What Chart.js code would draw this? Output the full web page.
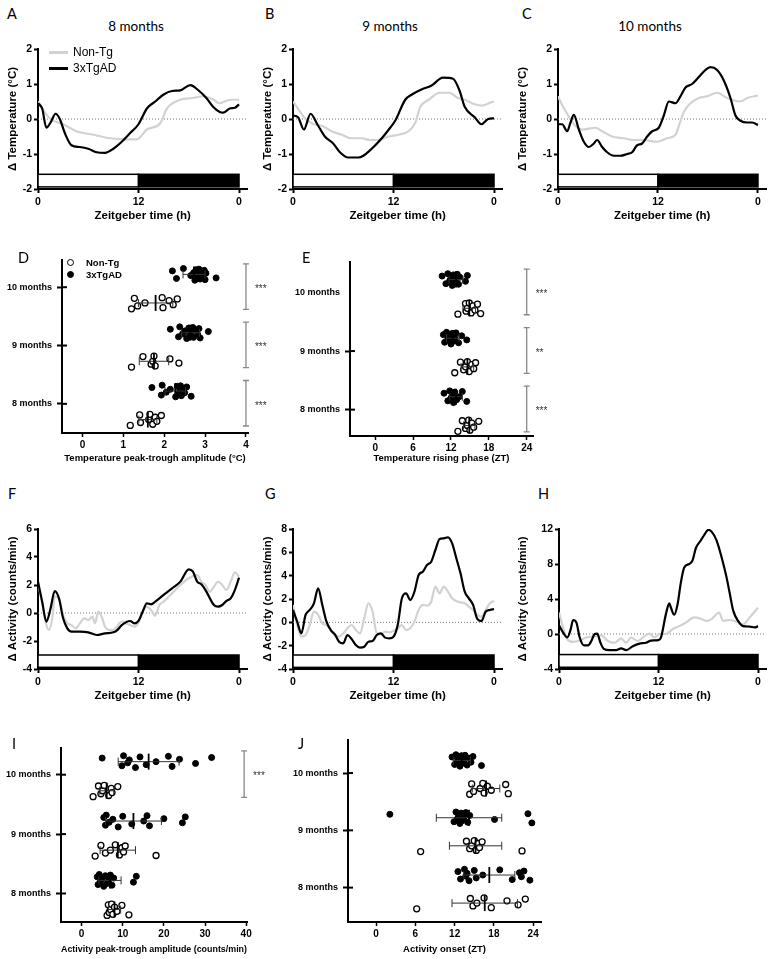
<!DOCTYPE html>
<html>
<head>
<meta charset="utf-8">
<script src="https://cdn.jsdelivr.net/npm/chart.js@4.4.1/dist/chart.umd.min.js"></script>
<style>
body { margin: 0; background: #fff; }
#fig { position: relative; width: 775px; height: 959px; overflow: hidden; font-family: 'Liberation Sans', Arial, sans-serif; }
canvas { position: absolute; }
.lt { position: absolute; font-family: Lato, 'Open Sans', sans-serif; font-size: 14.5px; line-height: 14.5px; }
.ttl { position: absolute; font-family: Lato, 'Open Sans', sans-serif; font-size: 13.5px; line-height: 13.5px; transform: translateX(-50%); white-space: nowrap; }
.lg { position: absolute; font-size: 12px; line-height: 12px; white-space: nowrap; }
.lgb { position: absolute; font-size: 9.5px; line-height: 10px; font-weight: bold; white-space: nowrap; }
.sw { position: absolute; height: 3px; width: 19px; }
.dot { position: absolute; width: 5px; height: 5px; border: 1.3px solid #000; border-radius: 50%; }
</style>
</head>
<body>
<div id="fig">
  <canvas id="cA"></canvas><canvas id="cB"></canvas><canvas id="cC"></canvas>
  <canvas id="cD"></canvas><canvas id="cE"></canvas>
  <canvas id="cF"></canvas><canvas id="cG"></canvas><canvas id="cH"></canvas>
  <canvas id="cI"></canvas><canvas id="cJ"></canvas>

  <div class="lt" style="left:7px;top:7px">A</div>
  <div class="lt" style="left:265px;top:7px">B</div>
  <div class="lt" style="left:522px;top:7px">C</div>
  <div class="lt" style="left:18px;top:251px">D</div>
  <div class="lt" style="left:302px;top:251px">E</div>
  <div class="lt" style="left:8px;top:487px">F</div>
  <div class="lt" style="left:265px;top:487px">G</div>
  <div class="lt" style="left:538px;top:487px">H</div>
  <div class="lt" style="left:12px;top:737px">I</div>
  <div class="lt" style="left:298px;top:737px">J</div>

  <div class="ttl" style="left:136px;top:20px">8 months</div>
  <div class="ttl" style="left:390px;top:20px">9 months</div>
  <div class="ttl" style="left:650px;top:20px">10 months</div>

  <div class="sw" style="left:49px;top:51px;background:#d2d2d2"></div>
  <div class="lg" style="left:73px;top:46px">Non-Tg</div>
  <div class="sw" style="left:49px;top:67px;background:#000"></div>
  <div class="lg" style="left:73px;top:62px">3xTgAD</div>

  <div class="dot" style="left:67px;top:259px;background:#fff"></div>
  <div class="lgb" style="left:86px;top:258px">Non-Tg</div>
  <div class="dot" style="left:67px;top:271px;background:#000"></div>
  <div class="lgb" style="left:86px;top:270px">3xTgAD</div>
</div>
<script>
Chart.defaults.font.family = "'Liberation Sans', Arial, sans-serif";
Chart.defaults.color = '#000';
Chart.defaults.animation = false;
Chart.defaults.plugins.legend.display = false;
Chart.defaults.plugins.tooltip.enabled = false;

// ---- 24 h profiles, [zeitgeber hour, delta] ----
const tempNonTg8 = [[0,0.5],[0.5,0.3],[1.5,0.0],[3,-0.15],[4.6,-0.35],[6.6,-0.45],[8.6,-0.55],[10.6,-0.58],[11.8,-0.58],[13,-0.3],[14.6,-0.12],[15.4,0.3],[17,0.55],[18.5,0.6],[19.7,0.65],[21,0.55],[21.6,0.45],[23,0.55],[24,0.55]];
const tempTg8 = [[0,0.45],[0.5,0.3],[1,-0.25],[1.5,-0.1],[2.1,0.15],[2.6,0.0],[3.2,-0.4],[4,-0.75],[5,-0.8],[6,-0.85],[7,-0.95],[8,-0.97],[9,-0.85],[10,-0.65],[11,-0.4],[12,-0.15],[13,0.3],[14,0.5],[15,0.7],[16,0.8],[17,0.82],[18.2,0.97],[19,0.85],[20.1,0.6],[20.9,0.35],[21.7,0.2],[22.1,0.18],[22.9,0.3],[23.5,0.32],[24,0.42]];
const tempNonTg9 = [[0,0.5],[1.5,0.0],[2.5,-0.15],[3.5,-0.2],[4.6,-0.35],[5.8,-0.45],[7,-0.55],[8.2,-0.55],[9.2,-0.6],[10.2,-0.6],[11.4,-0.5],[12.6,-0.45],[13.8,-0.35],[14.6,-0.1],[15.2,0.35],[16.2,0.55],[17.5,0.75],[18.7,0.75],[19.7,0.6],[20.5,0.55],[21.7,0.42],[22.5,0.38],[23.7,0.48],[24,0.5]];
const tempTg9 = [[0,0.1],[0.6,0.05],[1.3,-0.3],[2.1,0.15],[2.9,-0.15],[3.8,-0.5],[4.8,-0.7],[5.6,-0.95],[6.6,-1.1],[7.8,-1.1],[8.4,-1.05],[9.4,-0.85],[10.6,-0.55],[11.6,-0.25],[12.2,-0.05],[13.4,0.55],[14.2,0.7],[15.4,0.85],[16.5,0.95],[17.9,1.18],[19.1,1.15],[19.9,0.8],[20.5,0.35],[21.7,0.05],[22.5,-0.15],[23.3,0.0],[24,0.02]];
const tempNonTg10 = [[0,0.65],[0.5,0.4],[1.1,0.15],[1.9,-0.15],[2.9,-0.3],[4.5,-0.25],[5.3,-0.35],[6.5,-0.5],[7.9,-0.55],[9.1,-0.6],[10.3,-0.6],[11.9,-0.65],[13.1,-0.55],[14.1,-0.45],[14.5,-0.2],[15.1,0.2],[15.9,0.45],[16.9,0.6],[17.9,0.65],[19.1,0.75],[20.3,0.6],[21.9,0.5],[22.7,0.6],[24,0.67]];
const tempTg10 = [[0,-0.15],[0.5,-0.15],[1.1,-0.35],[1.5,-0.1],[1.9,0.12],[2.5,-0.3],[3.1,-0.65],[3.7,-0.8],[4.3,-0.7],[4.7,-0.6],[5.3,-0.8],[5.9,-0.95],[6.7,-1.05],[7.5,-1.05],[8.3,-1.0],[8.9,-0.95],[9.5,-0.75],[10.1,-0.7],[10.7,-0.5],[11.3,-0.35],[12.1,-0.25],[12.7,0.1],[13.3,0.5],[14.1,0.45],[14.7,0.65],[15.3,0.9],[16.1,1.0],[16.9,1.2],[17.7,1.4],[18.3,1.48],[19.1,1.4],[19.9,1.1],[20.7,0.6],[21.3,0.1],[21.9,-0.05],[22.7,-0.1],[23.3,-0.1],[24,-0.17]];

const actNonTg8 = [[0,2.12],[0.5,0.7],[1,-0.86],[1.3,-1.2],[1.7,-0.38],[2,1.17],[2.5,1.05],[3,-0.14],[3.5,-0.74],[4,-0.86],[4.5,-1.1],[5,-0.74],[5.5,-0.38],[6,-0.5],[6.5,-0.26],[6.8,-0.74],[7.2,0.1],[7.6,-0.26],[8,-0.98],[8.5,-1.2],[9,-1.2],[10,-0.62],[10.5,-0.74],[11,-0.86],[11.5,-0.98],[12,-0.67],[12.5,0.1],[13,0.45],[13.5,0.21],[14,-0.19],[14.5,0.57],[15,0.81],[16,1.4],[17,2.0],[18,2.48],[19,2.71],[19.5,2.24],[20,2.0],[20.5,1.52],[21,1.88],[21.5,2.24],[22,2.0],[22.5,1.64],[23,2.24],[23.5,2.9],[24,2.6]];
const actTg8 = [[0,2.24],[0.5,0.8],[1,-0.62],[1.5,0.33],[2,1.57],[2.5,1.05],[3,-0.38],[3.5,-1.1],[4,-1.33],[5,-1.33],[6,-1.38],[7,-1.57],[8,-1.45],[9,-1.38],[9.5,-1.2],[10,-0.86],[11,-0.57],[11.5,-0.74],[12,-0.57],[12.5,0.1],[13,0.69],[13.5,0.62],[14,0.81],[15,1.29],[16,1.76],[17,2.24],[18,3.12],[18.5,2.95],[19,2.24],[19.5,2.05],[20,1.64],[21,0.57],[21.5,0.45],[22,0.57],[22.5,0.86],[23,1.05],[23.5,1.64],[24,2.52]];
const actNonTg9 = [[0,1.49],[0.5,-0.23],[1,-1.23],[1.5,-1.09],[2,-0.23],[2.5,0.91],[3,0.63],[3.5,-0.09],[4,-0.23],[4.5,-0.66],[5,-1.14],[5.5,-1.23],[6,-0.94],[6.5,-0.51],[7,-0.23],[7.5,-0.66],[8,-0.94],[8.5,0.34],[9,1.63],[9.5,0.91],[10,-0.94],[10.5,-1.03],[11,-0.8],[11.5,-0.86],[12,-0.74],[12.5,-0.51],[13,-0.23],[13.5,-0.66],[14,-0.51],[14.5,0.06],[15,1.06],[15.5,1.49],[16,1.43],[16.5,1.77],[17,3.06],[17.5,2.49],[18,3.06],[18.5,2.63],[19,2.06],[19.5,1.83],[20,1.71],[20.5,1.63],[21,1.34],[21.5,1.06],[22,0.63],[22.5,0.49],[23,1.06],[23.5,1.63],[24,1.83]];
const actTg9 = [[0,1.06],[0.5,0.06],[1,-0.94],[1.5,0.63],[2,1.06],[2.5,1.63],[3,2.91],[3.5,1.49],[4,0.06],[4.5,-0.66],[5,-1.03],[5.5,-1.66],[6,-1.8],[6.5,-1.09],[7,-1.43],[7.5,-1.94],[8,-2.17],[8.5,-2.09],[9,-1.66],[9.5,-1.6],[10,-1.09],[10.5,-0.94],[11,-1.31],[11.5,-1.37],[12,-1.23],[12.5,-0.23],[13,2.06],[13.5,2.49],[14,1.91],[14.5,2.63],[15,4.06],[15.5,4.34],[16,4.91],[16.5,5.2],[17,6.2],[17.5,7.14],[18,7.2],[18.5,7.29],[19,6.77],[19.5,5.49],[20,4.2],[20.5,2.63],[21,2.06],[21.5,1.49],[22,0.29],[22.5,0.11],[23,0.91],[23.5,1.06],[24,1.14]];
const actNonTg10 = [[0,2.45],[0.5,0.7],[1,-0.6],[1.7,-0.9],[2.5,-0.75],[3.3,-0.4],[4.3,-0.25],[5.1,-0.15],[5.9,-0.8],[6.7,-1.0],[7.5,-0.5],[8.1,-1.0],[8.7,-0.4],[9.5,-0.8],[10.3,-0.25],[10.9,0.05],[11.5,-0.4],[12.1,0.0],[12.9,0.0],[13.7,0.55],[14.5,0.9],[15.3,1.3],[16.3,1.9],[17.1,1.75],[17.8,1.5],[18.4,1.7],[19.3,2.45],[19.8,1.5],[20.6,1.6],[21.4,1.4],[22.2,1.1],[23,1.9],[24,3.0]];
const actTg10 = [[0,1.0],[0.5,0.15],[1,-0.4],[1.4,0.5],[1.7,1.6],[2.1,1.3],[2.5,-0.4],[3,-1.3],[3.5,-1.3],[3.9,-0.8],[4.3,0.0],[4.6,0.05],[5,-1.0],[5.4,-1.7],[6.1,-1.85],[6.9,-1.85],[7.5,-1.65],[8.1,-1.85],[8.9,-1.4],[9.7,-1.1],[10.5,-1.0],[11.1,-0.75],[12,-0.7],[12.3,-0.4],[12.9,2.3],[13.3,3.5],[13.5,3.0],[13.9,2.2],[14.3,3.4],[14.7,5.9],[15.1,7.6],[15.7,8.0],[16.1,8.4],[16.5,9.8],[17.1,10.7],[17.5,11.3],[18,11.9],[18.4,11.7],[19,10.7],[19.6,8.8],[20.2,6.5],[20.6,4.6],[21,2.7],[21.6,1.5],[22.2,0.9],[23,0.85],[23.6,0.75],[24,0.9]];

const ztTickValues = [0, 12, 24];
const ztTickLabels = ['0', '12', '0'];
// light / dark bar
const ldStart = [0, 12];
const ldEnd = [12, 24];
const ldFill = ['#fff', '#000'];

// ---- per-animal values ----
const ages = ['8 months', '9 months', '10 months'];

const tempAmpNonTg8 = [1.17, 1.4, 1.42, 1.62, 1.65, 1.72, 1.78, 1.82, 1.93];
const tempAmpNonTg9 = [1.2, 1.48, 1.68, 1.72, 1.75, 1.78, 2.14, 2.36];
const tempAmpNonTg10 = [1.2, 1.27, 1.35, 1.53, 1.95, 1.97, 2.12, 2.22, 2.32];
const tempAmpTg8 = [1.7, 1.93, 1.95, 2.05, 2.15, 2.28, 2.32, 2.35, 2.38, 2.4, 2.42, 2.45, 2.5, 2.55, 2.66];
const tempAmpTg9 = [2.15, 2.35, 2.38, 2.45, 2.5, 2.55, 2.6, 2.62, 2.65, 2.7, 2.72, 2.78, 2.82, 2.85, 2.88, 3.08];
const tempAmpTg10 = [2.2, 2.3, 2.47, 2.65, 2.72, 2.75, 2.78, 2.8, 2.82, 2.85, 2.88, 2.9, 2.95, 2.98, 3.0, 3.02, 3.27];
const tempAmpNonTgMean = [1.6, 1.75, 1.79];
const tempAmpNonTgSd = [0.22, 0.36, 0.42];
const tempAmpTgMean = [2.27, 2.64, 2.73];
const tempAmpTgSd = [0.25, 0.22, 0.27];

const risePhaseNonTg8 = [13.1, 13.8, 14.3, 14.6, 14.8, 15.0, 15.3, 15.6, 16.4];
const risePhaseNonTg9 = [12.6, 13.5, 14.0, 14.3, 14.6, 14.9, 15.3, 15.6, 15.9];
const risePhaseNonTg10 = [13.1, 14.3, 14.4, 14.6, 14.9, 15.2, 15.5, 15.8, 16.2, 16.7];
const risePhaseTg8 = [10.9, 11.5, 11.8, 12.0, 12.2, 12.4, 12.6, 12.9, 13.3, 13.8, 14.5];
const risePhaseTg9 = [10.8, 11.0, 11.3, 11.5, 11.8, 12.0, 12.2, 12.4, 12.6, 12.8, 13.2, 13.7, 14.5];
const risePhaseTg10 = [10.6, 11.2, 11.5, 11.8, 12.0, 12.2, 12.4, 12.6, 12.8, 13.0, 13.2, 13.4, 14.3, 14.6];
const risePhaseNonTgMean = [14.9, 14.6, 14.9];
const risePhaseNonTgSd = [0.9, 1.0, 1.0];
const risePhaseTgMean = [12.8, 12.3, 12.8];
const risePhaseTgSd = [1.0, 1.0, 1.1];

const actAmpNonTg8 = [6.2, 6.5, 6.7, 7.0, 7.3, 7.6, 8.0, 8.6, 9.8, 11.5];
const actAmpNonTg9 = [3.3, 4.7, 5.8, 7.0, 8.2, 9.2, 9.8, 10.2, 10.6, 18.1];
const actAmpNonTg10 = [2.8, 4.1, 4.7, 5.1, 5.5, 6.6, 7.2, 7.4, 8.8];
const actAmpTg8 = [3.8, 4.0, 4.3, 4.6, 5.0, 5.4, 5.8, 6.2, 6.6, 7.0, 7.4, 7.8, 12.6, 13.3];
const actAmpTg9 = [5.4, 5.8, 6.0, 6.7, 7.6, 8.9, 10.0, 12.2, 15.1, 15.9, 16.5, 20.0, 24.5, 25.2];
const actAmpTg10 = [5.0, 9.8, 10.2, 11.2, 11.6, 13.1, 14.2, 15.7, 18.1, 21.1, 22.0, 23.8, 27.7, 31.6];
const actAmpNonTgMean = [8.0, 8.8, 6.1];
const actAmpNonTgSd = [1.5, 4.3, 1.7];
const actAmpTgMean = [6.9, 12.6, 16.3];
const actAmpTgSd = [2.7, 6.8, 7.4];

const onsetNonTg8 = [6.2, 14.4, 14.8, 15.4, 16.5, 17.6, 20.0, 21.7, 22.8];
const onsetNonTg9 = [6.8, 13.8, 14.3, 14.6, 15.0, 15.3, 15.6, 15.8, 16.2, 22.3];
const onsetNonTg10 = [14.3, 14.6, 14.9, 15.9, 16.3, 16.5, 17.0, 17.6, 19.8, 20.2];
const onsetTg8 = [12.5, 12.9, 13.5, 13.7, 13.9, 14.2, 15.0, 15.3, 16.3, 18.9, 20.8, 21.9, 22.2, 22.6, 23.5];
const onsetTg9 = [2.1, 11.9, 12.2, 12.4, 12.6, 12.8, 13.0, 13.2, 13.4, 13.7, 14.0, 14.3, 18.1, 23.2, 23.8];
const onsetTg10 = [11.6, 12.0, 12.2, 12.4, 12.6, 12.8, 13.0, 13.2, 13.4, 13.6, 13.9, 14.2, 14.5, 14.8, 16.1];
const onsetNonTgMean = [16.6, 15.2, 16.8];
const onsetNonTgSd = [5.0, 4.0, 2.1];
const onsetTgMean = [17.3, 14.2, 13.1];
const onsetTgSd = [3.9, 5.0, 1.3];

// vertical scatter of the dots inside a row
const jitter = [0.06, -0.07, 0.1, -0.02, 0.03, -0.1, 0.08, -0.05, 0.0, 0.09, -0.08, 0.04, -0.03, 0.07, -0.09, 0.02, -0.06];
const tgRow = 0.22, nonTgRow = -0.27;

const axisFont = { size: 10.5, weight: 'bold' };
const titleFont = { size: 11.5, weight: 'bold' };

function place(id, box) {
  const cv = document.getElementById(id);
  cv.width = box.w; cv.height = box.h;
  cv.style.left = box.l + 'px'; cv.style.top = box.t + 'px';
  cv.style.width = box.w + 'px'; cv.style.height = box.h + 'px';
  return cv;
}

const ldBar = {
  id: 'ldBar',
  afterDatasetsDraw(chart, args, opts) {
    const { ctx, scales: { x, y } } = chart;
    const yt = y.getPixelForValue(opts.top), yb = y.getPixelForValue(opts.bottom);
    ctx.save();
    ldStart.forEach((s, i) => {
      const x0 = x.getPixelForValue(s), x1 = x.getPixelForValue(ldEnd[i]);
      ctx.fillStyle = ldFill[i];
      ctx.fillRect(x0, yt, x1 - x0, yb - yt);
      ctx.strokeStyle = '#000';
      ctx.lineWidth = 1.5;
      ctx.strokeRect(x0, yt, x1 - x0, yb - yt);
    });
    ctx.restore();
  }
};

function linePanel(id, box, p) {
  const cv = place(id, box);
  new Chart(cv, {
    type: 'line',
    data: {
      datasets: [
        { data: p.tg.map(d => ({ x: d[0], y: d[1] })), borderColor: '#000', borderWidth: 2.2, pointRadius: 0, cubicInterpolationMode: 'monotone' },
        { data: p.nonTg.map(d => ({ x: d[0], y: d[1] })), borderColor: '#d2d2d2', borderWidth: 2.2, pointRadius: 0, cubicInterpolationMode: 'monotone' },
        { data: [{ x: 0, y: 0 }, { x: 25, y: 0 }], borderColor: '#777', borderWidth: 1, borderDash: [1, 2], pointRadius: 0 }
      ]
    },
    plugins: [ldBar],
    options: {
      responsive: false,
      layout: { padding: { left: 5, top: 9, right: box.pr, bottom: 0 } },
      plugins: { ldBar: { top: p.ldTop, bottom: p.ldBottom } },
      scales: {
        x: {
          type: 'linear', min: 0, max: 25,
          afterBuildTicks: s => { s.ticks = ztTickValues.map(v => ({ value: v })); },
          afterFit: s => { s.height = 35; },
          ticks: { font: axisFont, padding: 3, maxRotation: 0, callback: (v, i) => ztTickLabels[i] },
          grid: { drawOnChartArea: false, tickLength: 4, tickWidth: 2, tickColor: '#000' },
          border: { color: '#000', width: 2 },
          title: { display: true, text: 'Zeitgeber time (h)', font: titleFont, padding: { top: 1, bottom: 1 } }
        },
        y: {
          min: p.yMin, max: p.yMax,
          afterFit: s => { s.width = box.yw; },
          ticks: { stepSize: p.yStep, font: axisFont, padding: 2 },
          grid: { drawOnChartArea: false, tickLength: 4, tickWidth: 2, tickColor: '#000' },
          border: { color: '#000', width: 2 },
          title: { display: true, text: p.yTitle, font: titleFont, padding: { top: 1, bottom: 1 } }
        }
      }
    }
  });
}

function scatterPanel(id, box, p) {
  const cv = place(id, box);
  const datasets = [];
  ages.forEach((a, i) => {
    datasets.push({
      data: p.tg[i].map((v, k) => ({ x: v, y: i + tgRow + jitter[k % jitter.length] })),
      pointRadius: 3, pointBackgroundColor: '#000', pointBorderColor: '#000', pointBorderWidth: 1
    });
    datasets.push({
      data: p.nonTg[i].map((v, k) => ({ x: v, y: i + nonTgRow + jitter[(k + 5) % jitter.length] })),
      pointRadius: 3, pointBackgroundColor: '#fff', pointBorderColor: '#000', pointBorderWidth: 1.3
    });
  });
  const marks = {
    id: 'marks',
    afterDatasetsDraw(chart) {
      const { ctx, scales: { x, y }, chartArea } = chart;
      ctx.save();
      // inner half of the category ticks
      ctx.strokeStyle = '#000'; ctx.lineWidth = 2;
      ages.forEach((a, i) => {
        if (p.hideTicks.includes(i)) return;
        const yy = y.getPixelForValue(i);
        ctx.beginPath(); ctx.moveTo(chartArea.left, yy); ctx.lineTo(chartArea.left + 5, yy); ctx.stroke();
      });
      // mean +/- SD
      const bar = (mean, sd, row) => {
        const x0 = x.getPixelForValue(mean - sd), x1 = x.getPixelForValue(mean + sd), xm = x.getPixelForValue(mean);
        const yy = y.getPixelForValue(row);
        ctx.strokeStyle = '#333'; ctx.lineWidth = 1;
        ctx.beginPath();
        ctx.moveTo(x0, yy); ctx.lineTo(x1, yy);
        ctx.moveTo(x0, yy - 4); ctx.lineTo(x0, yy + 4);
        ctx.moveTo(x1, yy - 4); ctx.lineTo(x1, yy + 4);
        ctx.stroke();
        ctx.strokeStyle = '#000'; ctx.lineWidth = 1.8;
        ctx.beginPath(); ctx.moveTo(xm, yy - 8); ctx.lineTo(xm, yy + 8); ctx.stroke();
      };
      ages.forEach((a, i) => {
        bar(p.tgMean[i], p.tgSd[i], i + tgRow);
        bar(p.nonTgMean[i], p.nonTgSd[i], i + nonTgRow);
      });
      // significance brackets
      ctx.font = '10px "Liberation Sans", Arial, sans-serif';
      ctx.textBaseline = 'middle';
      ctx.fillStyle = '#333';
      p.stars.forEach((s, i) => {
        if (!s) return;
        const bx = x.getPixelForValue(p.bracketX);
        const yTop = y.getPixelForValue(i + 0.4), yBot = y.getPixelForValue(i - 0.38);
        ctx.strokeStyle = '#888'; ctx.lineWidth = 1.3;
        ctx.beginPath();
        ctx.moveTo(bx - 3, yTop); ctx.lineTo(bx + 3, yTop);
        ctx.moveTo(bx, yTop); ctx.lineTo(bx, yBot);
        ctx.moveTo(bx - 3, yBot); ctx.lineTo(bx + 3, yBot);
        ctx.stroke();
        ctx.fillText(s, bx + 9, y.getPixelForValue(i) + 2);
      });
      ctx.restore();
    }
  };
  new Chart(cv, {
    type: 'scatter',
    data: { datasets },
    plugins: [marks],
    options: {
      responsive: false,
      layout: { padding: { left: 0, top: box.pt, right: box.pr, bottom: 0 } },
      scales: {
        x: {
          type: 'linear', min: p.xMin, max: p.xMax,
          afterBuildTicks: s => { s.ticks = p.xTicks.map(v => ({ value: v })); },
          afterFit: s => { s.height = box.xh; },
          ticks: { font: { size: 10, weight: 'bold' }, padding: 2, maxRotation: 0 },
          grid: { drawOnChartArea: false, tickLength: 4, tickWidth: 1.5, tickColor: '#000' },
          border: { color: '#000', width: 2 },
          title: { display: true, text: p.xTitle, font: { size: 9.5, weight: 'bold' }, padding: { top: 0, bottom: 0 } }
        },
        y: {
          type: 'linear', min: p.yMin, max: p.yMax,
          afterBuildTicks: s => { s.ticks = ages.map((a, i) => ({ value: i })); },
          afterFit: s => { s.width = box.yw; },
          ticks: { font: { size: 9, weight: 'bold' }, padding: 5, callback: (v, i) => ages[i] },
          grid: {
            drawOnChartArea: false, tickLength: 5, tickWidth: 2,
            tickColor: c => (c.tick && p.hideTicks.includes(c.tick.value)) ? 'rgba(0,0,0,0)' : '#000'
          },
          border: { color: '#000', width: 2 }
        }
      }
    }
  });
}

const tempTitle = '\u0394 Temperature (\u00B0C)';
const actTitle = '\u0394 Activity (counts/min)';

linePanel('cA', { l: 0, t: 40, w: 255, h: 184, yw: 33, pr: 7.6 }, { tg: tempTg8, nonTg: tempNonTg8, yMin: -2, yMax: 2, yStep: 1, ldTop: -1.58, ldBottom: -1.94, yTitle: tempTitle });
linePanel('cB', { l: 255, t: 40, w: 255, h: 184, yw: 33, pr: 7.6 }, { tg: tempTg9, nonTg: tempNonTg9, yMin: -2, yMax: 2, yStep: 1, ldTop: -1.58, ldBottom: -1.94, yTitle: tempTitle });
linePanel('cC', { l: 510, t: 40, w: 265, h: 184, yw: 43, pr: 8.7 }, { tg: tempTg10, nonTg: tempNonTg10, yMin: -2, yMax: 2, yStep: 1, ldTop: -1.58, ldBottom: -1.94, yTitle: tempTitle });

linePanel('cF', { l: 0, t: 520, w: 255, h: 184, yw: 33, pr: 7.6 }, { tg: actTg8, nonTg: actNonTg8, yMin: -4, yMax: 6, yStep: 2, ldTop: -3.0, ldBottom: -3.88, yTitle: actTitle });
linePanel('cG', { l: 255, t: 520, w: 255, h: 184, yw: 33, pr: 7.6 }, { tg: actTg9, nonTg: actNonTg9, yMin: -4, yMax: 8, yStep: 2, ldTop: -2.8, ldBottom: -3.86, yTitle: actTitle });
linePanel('cH', { l: 510, t: 520, w: 265, h: 184, yw: 44, pr: 8.7 }, { tg: actTg10, nonTg: actNonTg10, yMin: -4, yMax: 12, yStep: 4, ldTop: -2.35, ldBottom: -3.8, yTitle: actTitle });

scatterPanel('cD', { l: 0, t: 250, w: 290, h: 214, yw: 62, xh: 31, pt: 10, pr: 42 }, {
  tg: [tempAmpTg8, tempAmpTg9, tempAmpTg10], nonTg: [tempAmpNonTg8, tempAmpNonTg9, tempAmpNonTg10],
  tgMean: tempAmpTgMean, tgSd: tempAmpTgSd, nonTgMean: tempAmpNonTgMean, nonTgSd: tempAmpNonTgSd,
  xMin: -0.5, xMax: 4.05, xTicks: [0, 1, 2, 3, 4], yMin: -0.5, yMax: 2.46,
  bracketX: 4, stars: ['***', '***', '***'], hideTicks: [],
  xTitle: 'Temperature peak-trough amplitude (\u00B0C)'
});
scatterPanel('cE', { l: 290, t: 250, w: 270, h: 214, yw: 60, xh: 28, pt: 12, pr: 27 }, {
  tg: [risePhaseTg8, risePhaseTg9, risePhaseTg10], nonTg: [risePhaseNonTg8, risePhaseNonTg9, risePhaseNonTg10],
  tgMean: risePhaseTgMean, tgSd: risePhaseTgSd, nonTgMean: risePhaseNonTgMean, nonTgSd: risePhaseNonTgSd,
  xMin: -4, xMax: 25, xTicks: [0, 6, 12, 18, 24], yMin: -0.45, yMax: 2.52,
  bracketX: 24, stars: ['***', '**', '***'], hideTicks: [2],
  xTitle: 'Temperature rising phase (ZT)'
});
scatterPanel('cI', { l: 0, t: 735, w: 290, h: 220, yw: 61, xh: 33, pt: 13, pr: 43 }, {
  tg: [actAmpTg8, actAmpTg9, actAmpTg10], nonTg: [actAmpNonTg8, actAmpNonTg9, actAmpNonTg10],
  tgMean: actAmpTgMean, tgSd: actAmpTgSd, nonTgMean: actAmpNonTgMean, nonTgSd: actAmpNonTgSd,
  xMin: -5, xMax: 40.2, xTicks: [0, 10, 20, 30, 40], yMin: -0.48, yMax: 2.45,
  bracketX: 39.5, stars: [null, null, '***'], hideTicks: [],
  xTitle: 'Activity peak-trough amplitude (counts/min)'
});
scatterPanel('cJ', { l: 290, t: 730, w: 270, h: 225, yw: 58, xh: 33, pt: 10, pr: 19 }, {
  tg: [onsetTg8, onsetTg9, onsetTg10], nonTg: [onsetNonTg8, onsetNonTg9, onsetNonTg10],
  tgMean: onsetTgMean, tgSd: onsetTgSd, nonTgMean: onsetNonTgMean, nonTgSd: onsetNonTgSd,
  xMin: -4.3, xMax: 25.2, xTicks: [0, 6, 12, 18, 24], yMin: -0.6, yMax: 2.57,
  bracketX: 24, stars: [null, null, null], hideTicks: [],
  xTitle: 'Activity onset (ZT)'
});
</script>
</body>
</html>
